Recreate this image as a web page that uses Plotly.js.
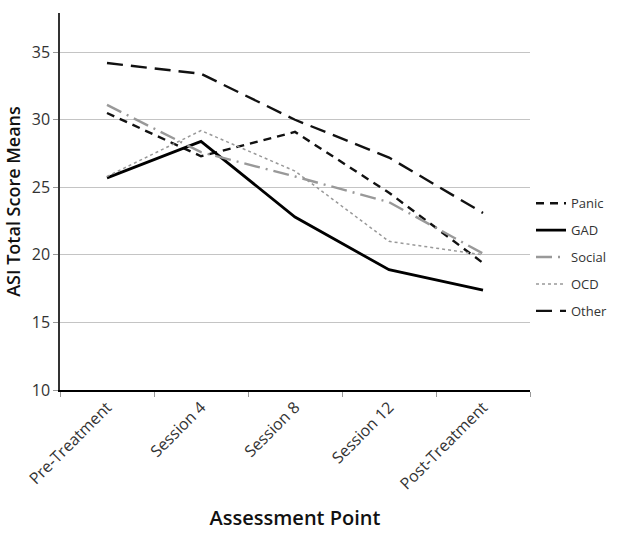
<!DOCTYPE html>
<html>
<head>
<meta charset="utf-8">
<script src="https://cdn.plot.ly/plotly-3.0.1.min.js"></script>
<style>
  body { margin: 0; background: #fff; }
  #chart { width: 624px; height: 539px; }
</style>
</head>
<body>
<div id="chart"></div>
<script>
// assessment points and group means
var points = ['Pre-Treatment', 'Session 4', 'Session 8', 'Session 12', 'Post-Treatment'];
var panic  = [30.5, 27.3, 29.1, 24.6, 19.4];
var gad    = [25.7, 28.4, 22.8, 18.9, 17.4];
var social = [31.1, 27.6, 25.8, 23.9, 20.1];
var ocd    = [25.8, 29.2, 26.2, 21.0, 20.0];
var other  = [34.2, 33.4, 30.0, 27.2, 23.1];

var font = 'Open Sans, Liberation Sans, sans-serif';

function series(name, y, color, width, dash) {
  return {
    x: points, y: y, name: name, legendgroup: name,
    type: 'scatter', mode: 'lines',
    line: {color: color, width: width, dash: dash}
  };
}

var data = [
  series('Panic', panic, '#111', 2.4, '8px,6px'),
  series('GAD', gad, '#000', 2.8, 'solid'),
  series('Social', social, '#999', 2.4, '16px,6px,2px,6px'),
  series('OCD', ocd, '#999', 1.5, 'dot'),
  series('Other', other, '#111', 2.4, '16px,8px')
];

var layout = {
  width: 624, height: 539,
  margin: {l: 60, r: 93, t: 13, b: 149},
  paper_bgcolor: '#fff', plot_bgcolor: '#fff',
  font: {family: font, color: '#333', size: 13},
  showlegend: true,
  legend: {
    x: 1.0, y: 0.535, xanchor: 'left', yanchor: 'top',
    font: {size: 13, color: '#333'},
    traceorder: 'grouped',
    tracegroupgap: 7
  },
  xaxis: {
    type: 'category', range: [-0.5, 4.5],
    showline: true, linecolor: '#000', linewidth: 1.5,
    showgrid: false, zeroline: false,
    ticks: 'outside', tickson: 'boundaries', ticklen: 5, tickcolor: '#999',
    tickangle: -45, tickfont: {size: 16, color: '#333'},
    title: {text: 'Assessment Point', font: {size: 20, color: '#111', weight: 600}, standoff: 18}
  },
  yaxis: {
    range: [10, 37.9], dtick: 5,
    showline: true, linecolor: '#333', linewidth: 1.5,
    showgrid: true, gridcolor: '#c4c4c4', gridwidth: 1,
    zeroline: false,
    ticks: 'outside', ticklen: 5, tickcolor: '#999',
    tickfont: {size: 16, color: '#333'},
    title: {text: 'ASI Total Score Means', font: {size: 18, color: '#111', weight: 600}, standoff: 6}
  }
};

Plotly.newPlot('chart', data, layout, {displayModeBar: false});
</script>
</body>
</html>
